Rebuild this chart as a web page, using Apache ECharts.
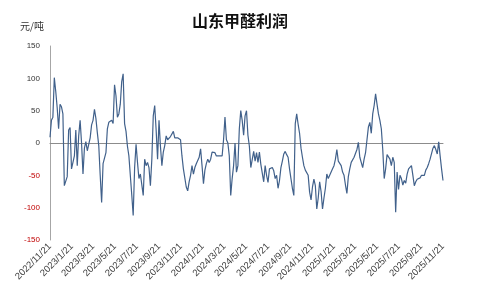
<!DOCTYPE html>
<html>
<head>
<meta charset="utf-8">
<script src="https://cdn.jsdelivr.net/npm/echarts@6/dist/echarts.min.js"></script>
<style>
html,body{margin:0;padding:0;background:#fff;}
#chart{width:480px;height:298px;}
</style>
</head>
<body>
<div id="chart"></div>
<script>
// Data: Shandong formaldehyde profit (元/吨), sampled every 4 days from 2022/11/21
const chartTitle = '山东甲醛利润';
const unitName = '元/吨';
const startDate = '2022-11-21';
const endDate = '2025-11-21';
const stepDays = 4;
const yTicks = [-150, -100, -50, 0, 50, 100, 150];
const labelMonths = [1, 3, 5, 7, 9, 11];
const labelDay = 21;
const profit = [
  9,35,40,101,80,55,22,60,56,45,
  -66,-63,-52,20,24,-40,-38,-20,20,-35,
  11,35,0,-48,-8,2,-12,-2,8,28,
  35,52,38,16,-4,-50,-92,-32,-35,-15,
  22,32,30,35,30,90,73,40,45,60,
  95,107,30,18,-5,-20,-20,-80,-112,-38,
  -2,-30,-55,-48,-50,-81,-25,-35,-30,-38,
  -66,-25,42,58,20,-25,35,-5,-35,-14,
  -4,11,5,3,10,12,18,8,8,8,
  5,5,-20,-40,-42,-68,-74,-60,-50,-35,
  -48,-38,-32,-35,-22,-9,-35,-63,-42,-32,
  -25,-30,-25,-14,-12,-15,-20,-17,-20,-18,
  -20,5,40,5,0,-20,-81,-55,-35,0,
  -45,-35,22,50,35,12,42,50,12,-5,
  -38,-40,-13,-28,-15,-30,-14,-33,-35,-60,
  -35,-50,-61,-40,-38,-38,-43,-55,-50,-70,
  -58,-38,-28,-17,-13,-18,-22,-40,-55,-70,
  -81,30,45,29,15,-8,-22,-35,-42,-45,
  -50,-76,-88,-68,-56,-66,-102,-85,-60,-75,
  -102,-85,-70,-48,-55,-50,-48,-40,-35,-25,
  -10,-28,-25,-35,-45,-50,-65,-78,-52,-40,
  -30,-27,-22,-20,-10,1,-22,-30,-38,-25,
  -15,5,25,32,15,45,58,76,60,45,
  35,22,-10,-55,-40,-18,-15,-25,-35,-22,
  -30,-107,-45,-72,-50,-55,-65,-58,-62,-48,
  -40,-38,-35,-50,-66,-60,-56,-56,-54,-50,
  -48,-50,-42,-38,-32,-25,-26,-8,-4,-10,
  -17,2,-20,-40,-58
];

// Build daily category axis
function fmt(d){return d.getUTCFullYear()+'/'+(d.getUTCMonth()+1)+'/'+d.getUTCDate();}
const days = [];
const dayInfo = [];
{
  const s = new Date(startDate+'T00:00:00Z');
  const e = new Date(endDate+'T00:00:00Z');
  for (let d = new Date(s); d <= e; d.setUTCDate(d.getUTCDate()+1)) {
    days.push(fmt(d));
    dayInfo.push({m: d.getUTCMonth()+1, day: d.getUTCDate()});
  }
}
const seriesData = profit.map((v, i) => [i*stepDays, v]);

const chart = echarts.init(document.getElementById('chart'), null, {renderer:'canvas'});
chart.setOption({
  animation:false,
  backgroundColor:'#fff',
  title:{
    text: chartTitle,
    left:'center', top:8,
    textStyle:{fontFamily:'Noto Sans CJK SC', fontWeight:'bold', fontSize:16, color:'#111'}
  },
  grid:{left:50, right:37, top:46, bottom:58, containLabel:false},
  xAxis:{
    type:'category',
    data: days,
    boundaryGap:false,
    axisLine:{show:true, lineStyle:{color:'#8c8c8c', width:1}},
    axisTick:{show:false},
    splitLine:{show:false},
    axisLabel:{
      rotate:45,
      interval:(idx)=> dayInfo[idx].day===labelDay && labelMonths.indexOf(dayInfo[idx].m)>=0,
      fontFamily:'Liberation Sans', fontSize:9.5, color:'#404040', margin:5
    }
  },
  yAxis:{
    type:'value',
    min: yTicks[0], max: yTicks[yTicks.length-1], interval:50,
    name: unitName,
    nameLocation:'end',
    nameGap:15,
    nameTextStyle:{fontFamily:'Noto Sans CJK SC', fontSize:10, color:'#333', align:'right', padding:[0,6,0,0]},
    axisLine:{show:true, lineStyle:{color:'#a6a6a6', width:1}},
    axisTick:{show:false},
    splitLine:{show:false},
    axisLabel:{
      fontFamily:'Liberation Sans', fontSize:8, margin:10,
      color:(v)=> Number(v)<0 ? '#c00000' : '#333'
    }
  },
  series:[{
    type:'line',
    data: seriesData,
    showSymbol:false,
    symbol:'none',
    lineStyle:{color:'#41618b', width:1.2},
    z:3
  }]
});
</script>
</body>
</html>
